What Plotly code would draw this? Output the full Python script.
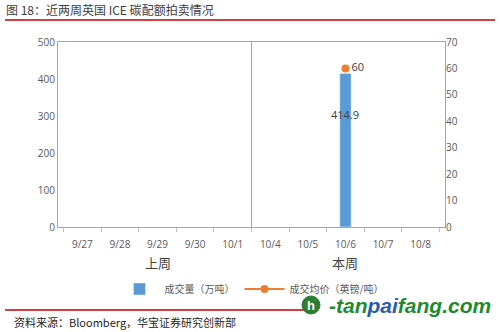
import plotly.graph_objects as go

categories = ["9/27", "9/28", "9/29", "9/30", "10/1", "10/4", "10/5", "10/6", "10/7", "10/8"]
volume = [None, None, None, None, None, None, None, 414.9, None, None]
price = [None, None, None, None, None, None, None, 60, None, None]
groups = ["上周", "本周"]

L, R, T, B = 58, 55, 42, 105
W, H = 500, 332
PW, PH = W - L - R, H - T - B


def px_x(px):
    return (px - L) / PW


def px_y(py):
    return (H - B - py) / PH


fig = go.Figure()
fig.add_trace(go.Bar(
    x=categories, y=volume, name="成交量（万吨）",
    marker_color="#5B9BD5", width=0.3,
))
for c, v in zip(categories, volume):
    if v is not None:
        fig.add_annotation(x=c, xref="x", y=v * 0.73, yref="y", text=f"{v}", showarrow=False,
                           font=dict(color="#404040", size=11, family="Open Sans"))
fig.add_trace(go.Scatter(
    x=categories, y=price, name="成交均价（英镑/吨）", yaxis="y2",
    mode="lines+markers+text", line=dict(color="#ED7D31", width=2),
    marker=dict(color="#ED7D31", size=8),
    text=["60" if v is not None else "" for v in price],
    textposition="middle right",
    textfont=dict(color="#404040", size=11, family="Open Sans"),
    cliponaxis=False,
))

axis_font = dict(color="#595959", size=10, family="Open Sans")
fig.update_layout(
    width=W, height=H,
    margin=dict(l=L, r=R, t=T, b=B, autoexpand=False),
    plot_bgcolor="white", paper_bgcolor="white",
    showlegend=True,
    legend=dict(orientation="h", x=0.5, xanchor="center", y=px_y(289), yanchor="middle",
                font=dict(color="#595959", size=10, family="Noto Sans CJK SC"),
                itemwidth=40, bgcolor="rgba(0,0,0,0)"),
    xaxis=dict(type="category", tickfont=axis_font, showgrid=False,
               showline=True, linecolor="#A6A6A6", mirror=True,
               ticks="outside", tickson="boundaries", ticklen=4, tickcolor="#BFBFBF",
               ticklabelstandoff=8),
    yaxis=dict(range=[0, 500], dtick=100, tickfont=axis_font, showgrid=False,
               showline=True, linecolor="#A6A6A6", mirror=True, zeroline=False),
    yaxis2=dict(range=[0, 70], dtick=10, tickfont=axis_font, overlaying="y",
                side="right", showgrid=False, showline=False, zeroline=False),
    bargap=0.6,
)

fig.add_shape(type="line", xref="x", yref="paper", x0=4.5, x1=4.5, y0=0, y1=1,
              line=dict(color="#A6A6A6", width=1))

group_centers = [2, 7]
for g, c in zip(groups, group_centers):
    fig.add_annotation(x=c, xref="x", y=px_y(262), yref="paper", text=g, showarrow=False,
                       font=dict(color="#404040", size=13, family="Noto Sans CJK SC"),
                       yanchor="middle")

fig.add_annotation(x=px_x(4), xref="paper", y=px_y(9), yref="paper", xanchor="left", yanchor="middle",
                   text="图 18：近两周英国 ICE 碳配额拍卖情况", showarrow=False,
                   font=dict(color="#404040", size=12, family="Noto Sans CJK SC"))
fig.add_shape(type="line", xref="paper", yref="paper", x0=px_x(5), x1=px_x(495),
              y0=px_y(20), y1=px_y(20), line=dict(color="#C00000", width=1.5))
fig.add_shape(type="line", xref="paper", yref="paper", x0=px_x(5), x1=px_x(305),
              y0=px_y(310), y1=px_y(310), line=dict(color="#C00000", width=1.5))
fig.add_annotation(x=px_x(12), xref="paper", y=px_y(322), yref="paper", xanchor="left", yanchor="middle",
                   text="资料来源：Bloomberg，华宝证券研究创新部", showarrow=False,
                   font=dict(color="#262626", size=11, family="Noto Sans CJK SC"))
fig.add_annotation(x=px_x(493), xref="paper", y=px_y(305), yref="paper", xanchor="right", yanchor="middle",
                   text="<b><i><span style='color:#1E8C2E'>-tan</span><span style='color:#2A5CAA'>pai</span><span style='color:#1E8C2E'>fang.com</span></i></b>",
                   showarrow=False, font=dict(size=21, family="Liberation Sans"))
fig.add_shape(type="circle", xref="paper", yref="paper", xsizemode="pixel", ysizemode="pixel",
              xanchor=px_x(311), yanchor=px_y(305), x0=-9, x1=9, y0=-9, y1=9,
              fillcolor="#2E7D32", line=dict(color="#2E7D32", width=1))
fig.add_annotation(x=px_x(311), xref="paper", y=px_y(305), yref="paper", xanchor="center", yanchor="middle",
                   text="<b>h</b>", showarrow=False,
                   font=dict(size=13, color="white", family="Liberation Sans"))

fig.write_html("out.html")
